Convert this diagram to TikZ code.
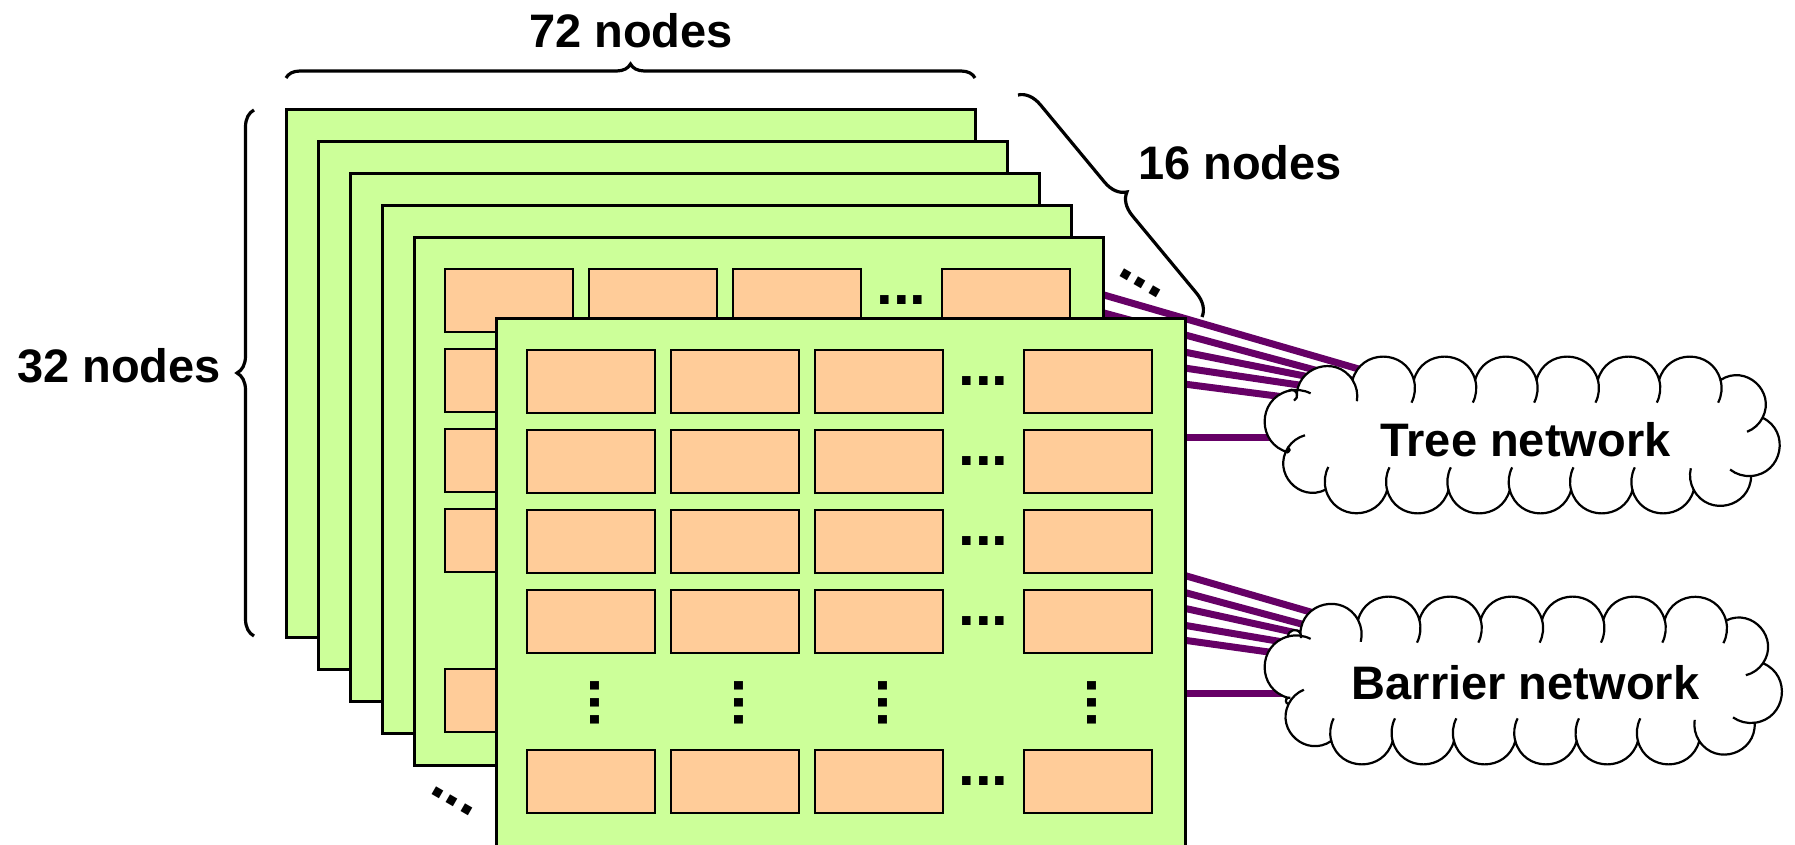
\documentclass[tikz,border=0pt]{standalone}
\usepackage{fontspec}
\setmainfont{Liberation Sans}
\usetikzlibrary{decorations.pathreplacing,decorations.markings,calc}
\definecolor{planegreen}{HTML}{CCFF99}
\definecolor{boxorange}{HTML}{FFCC99}
\definecolor{linkpurple}{HTML}{660066}
\tikzset{
  plane/.style={draw=black, fill=planegreen, line width=1.5pt, minimum width=344.5pt, minimum height=263.5pt, anchor=north west, inner sep=0pt, outer sep=0pt},
  cbox/.style={draw=black, fill=boxorange, line width=1.4pt, minimum width=64pt, minimum height=31.5pt, anchor=north west, inner sep=0pt, outer sep=0pt},
  dotstext/.style={inner sep=0pt, font=\fontsize{30pt}{36pt}\selectfont\bfseries},
  hdotsnode/.style={dotstext},
  vdotsnode/.style={dotstext, rotate=-90},
  ddotsnode/.style={dotstext, rotate=-30},
  lbl/.style={inner sep=0pt, font=\fontsize{23.5pt}{28pt}\selectfont\bfseries},
  link/.style={draw=linkpurple, line width=3.5pt},
  bracestyle/.style={draw=black, line width=1.6pt, decorate, decoration={brace, amplitude=#1}},
  cloudline/.style={draw=black, line width=1.1pt, line join=round},
  puff/.style={bend left=75, looseness=1.35},
}
% plane with its grid of boxes; #4 = 1 draws all dots, 0 only the visible top-row dots
\newcommand{\planecontents}[4]{%
  \begin{scope}[shift={(#2,#3)}]
    \node[plane] (#1) at (0,0) {};
    \foreach \r/\ry in {1/31,2/111,3/191,4/271,5/431} {
      \foreach \c/\cx in {1/31,2/175,3/319,4/528} {
        \node[cbox] (#1-\r-\c) at (\cx,\ry) {};
      }
    }
    \ifnum#4=1
      \foreach \r/\ry in {1/31,2/111,3/191,4/271,5/431} {
        \node[hdotsnode] (#1-h\r) at (487.5,\ry+31.5) {...};
      }
      \foreach \c/\cx in {1/99,2/243,3/387,4/596} {
        \node[vdotsnode] (#1-v\c) at (\cx,384) {...};
      }
    \else
      \node[hdotsnode] (#1-h1) at (487.5,62.5) {...};
    \fi
  \end{scope}}
% cloud: #1 prefix, #2..#5 base box, #6 text, #7 text y
\newcommand{\drawcloud}[7]{%
  \path[decorate, decoration={markings, mark=between positions 0 and 0.98 step 0.05 with {\coordinate (#1-\pgfkeysvalueof{/pgf/decoration/mark info/sequence number});}}, rounded corners=22pt]
    (#2,{(#3+#5)/2}) -- (#2,#3) -- (#4,#3) -- (#4,#5) -- (#2,#5) -- cycle;
  \path[cloudline, fill=white] (#1-1) \foreach \i in {2,...,20} { to[puff] (#1-\i) } to[puff] (#1-1) -- cycle;
  \foreach \i [evaluate=\i as \j using {int(mod(\i,20)+1)}] in {1,...,20} {
    \draw[cloudline] let \p1=(#1-\i), \p2=(#1-\j), \n1={atan2(\y2-\y1,\x2-\x1)}, \n2={veclen(\x2-\x1,\y2-\y1)/(2*sin(75))} in (\p2) arc[start angle={\n1+15}, delta angle=-42, radius=\n2];
  }
  \node[lbl] (#1-label) at ({(#2+#4)/2},#7) {#6};
}
\begin{document}
\begin{tikzpicture}[x=0.5pt, y=-0.5pt]
\useasboundingbox (0,0) rectangle (1795,845);
% back planes
\foreach \k in {0,...,3} {
  \node[plane] (plane\k) at ({286+32*\k},{110+32*\k}) {};
}
% link coordinates
\coordinate (ts1) at (1095,292.4); \coordinate (tt1) at (1400,381);
\coordinate (ts2) at (1095,310.6); \coordinate (tt2) at (1400,393);
\coordinate (ts3) at (1150,345.2); \coordinate (tt3) at (1400,395);
\coordinate (ts4) at (1150,362.9); \coordinate (tt4) at (1400,400);
\coordinate (ts5) at (1150,379.6); \coordinate (tt5) at (1400,412);
\coordinate (ts6) at (1150,437);   \coordinate (tt6) at (1400,437);
\coordinate (bs1) at (1150,565.4); \coordinate (bt1) at (1400,638);
\coordinate (bs2) at (1150,583.1); \coordinate (bt2) at (1400,650.6);
\coordinate (bs3) at (1150,600.7); \coordinate (bt3) at (1400,655.7);
\coordinate (bs4) at (1150,619.4); \coordinate (bt4) at (1400,661.9);
\coordinate (bs5) at (1150,635.4); \coordinate (bt5) at (1400,670.4);
\coordinate (bs6) at (1150,693);   \coordinate (bt6) at (1400,693);
\foreach \n in {1,...,6} {
  \draw[link] (ts\n) -- (tt\n);
  \draw[link] (bs\n) -- (bt\n);
}
% plane 5 and front plane
\planecontents{p5}{414}{238}{0}
\planecontents{pf}{496}{319}{1}
% diagonal dots
\node[ddotsnode] (dd1) at (1140,283) {...};
\node[ddotsnode] (dd2) at (452,801) {...};
% braces
\coordinate (b72l) at (286,78); \coordinate (b72r) at (975,78);
\draw[bracestyle=7pt] (b72l) -- (b72r);
\coordinate (b32b) at (254,636); \coordinate (b32t) at (254,110);
\draw[bracestyle=8.5pt] (b32b) -- (b32t);
\coordinate (b16a) at (1018,95); \coordinate (b16b) at (1202,317);
\draw[bracestyle=11pt] (b16a) -- (b16b);
% labels
\node[lbl] (l72) at (631,31) {72 nodes};
\node[lbl] (l32) at (119,366) {32 nodes};
\node[lbl] (l16) at (1240,163) {16 nodes};
% clouds
\drawcloud{T}{1288}{380}{1763}{490}{Tree network}{440}
\drawcloud{B}{1288}{620}{1763}{741}{Barrier network}{683}
\end{tikzpicture}
\end{document}
